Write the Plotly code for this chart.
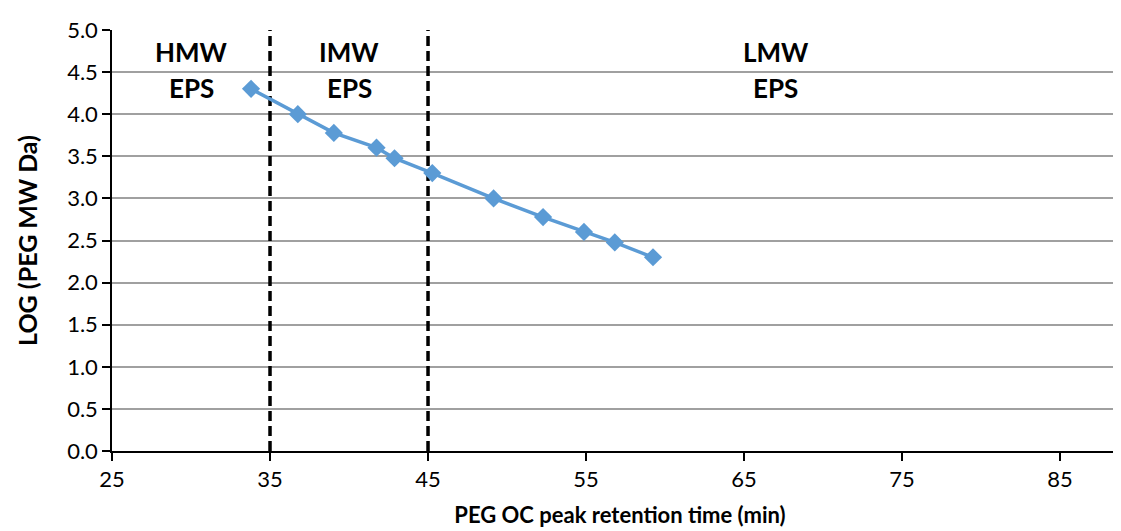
import plotly.graph_objects as go

# Data
retention_time = [33.8, 36.76, 39.04, 41.74, 42.88, 45.27, 49.15, 52.28, 54.87, 56.82, 59.24]
log_mw = [4.301, 4.0, 3.778, 3.602, 3.477, 3.301, 3.0, 2.778, 2.602, 2.477, 2.301]

boundaries = [35, 45]
region_names = ["HMW", "IMW", "LMW"]
region_centers = [30, 40, 67]

x_ticks = [25, 35, 45, 55, 65, 75, 85]
y_ticks = [0.0, 0.5, 1.0, 1.5, 2.0, 2.5, 3.0, 3.5, 4.0, 4.5, 5.0]

FONT = "Lato"

fig = go.Figure()

for b in boundaries:
    fig.add_trace(go.Scatter(
        x=[b, b], y=[0, 5], mode="lines",
        line=dict(color="black", width=3.5, dash="10px,5px"),
        showlegend=False, hoverinfo="skip"))

fig.add_trace(go.Scatter(
    x=retention_time, y=log_mw, mode="lines+markers",
    line=dict(color="#5b9bd5", width=3.5),
    marker=dict(symbol="diamond", size=14, color="#5b9bd5"),
    showlegend=False))

for name, cx in zip(region_names, region_centers):
    fig.add_annotation(x=cx, y=4.74, text="<b>%s</b>" % name, showarrow=False,
                       font=dict(family=FONT, size=26, color="black"),
                       xanchor="center", yanchor="middle")
    fig.add_annotation(x=cx, y=4.31, text="<b>EPS</b>", showarrow=False,
                       font=dict(family=FONT, size=26, color="black"),
                       xanchor="center", yanchor="middle")

fig.update_layout(
    width=1121, height=531,
    margin=dict(l=104, r=1, t=22, b=88),
    paper_bgcolor="white", plot_bgcolor="white",
    font=dict(family=FONT, size=22, color="black"),
    xaxis=dict(
        range=[25, 89.3], tickvals=x_ticks, ticktext=[str(v) for v in x_ticks],
        showgrid=False, zeroline=False,
        showline=True, linecolor="black", linewidth=1.5,
        ticks="outside", ticklen=8, tickcolor="black", tickwidth=1.5,
        title=dict(text="<b>PEG OC peak retention time (min)</b>",
                   font=dict(family=FONT, size=22), standoff=16),
    ),
    yaxis=dict(
        range=[0, 5], tickvals=y_ticks, ticktext=["%.1f" % v for v in y_ticks],
        showgrid=True, gridcolor="#a0a0a0", gridwidth=1.5, zeroline=False,
        showline=True, linecolor="black", linewidth=1.5,
        ticks="outside", ticklen=8, tickcolor="black", tickwidth=1.5,
        title=dict(text="<b>LOG (PEG MW Da)</b>",
                   font=dict(family=FONT, size=25), standoff=22),
    ),
)

fig.write_html("out.html")
